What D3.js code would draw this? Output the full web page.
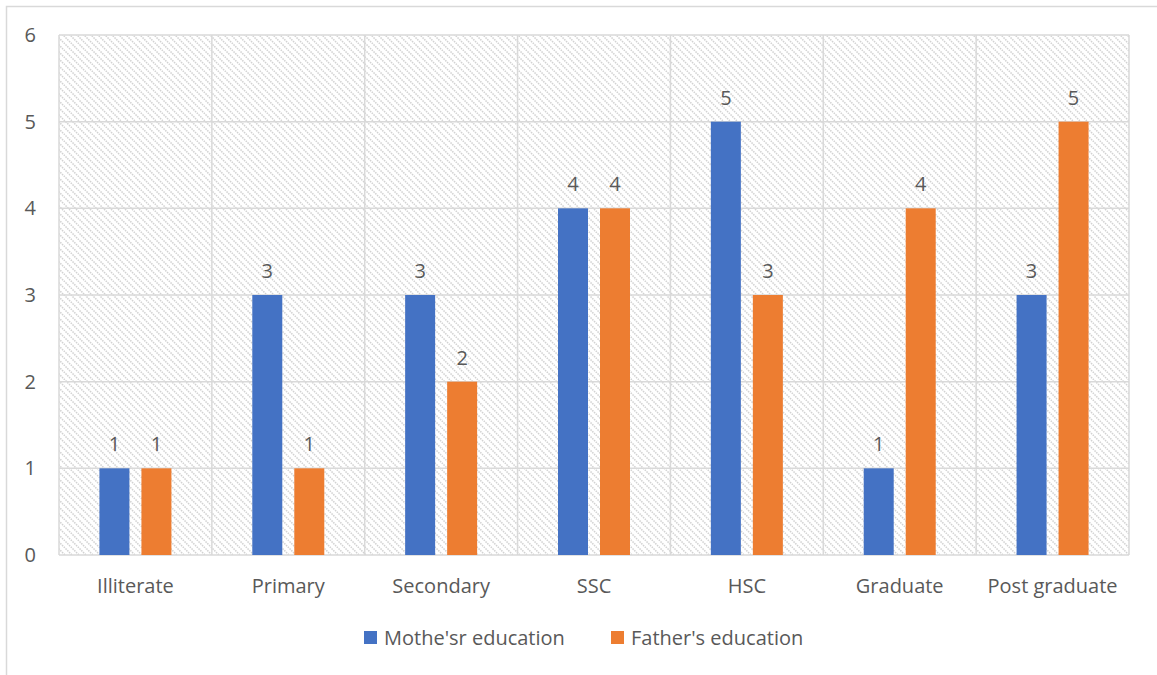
<!DOCTYPE html>
<html lang="en">
<head>
<meta charset="utf-8">
<title>Parents' education</title>
<script src="https://d3js.org/d3.v7.min.js"></script>
<style>
  body { margin: 0; background: #fff; }
  text { font-family: "Open Sans", "Liberation Sans", sans-serif; fill: #595959; }
</style>
</head>
<body>
<div id="chart"></div>
<script>
const categories = ["Illiterate", "Primary", "Secondary", "SSC", "HSC", "Graduate", "Post graduate"];
const seriesNames = ["Mothe'sr education", "Father's education"];
const mother = [1, 3, 3, 4, 5, 1, 3];
const father = [1, 1, 2, 4, 3, 4, 5];
const yTicks = [0, 1, 2, 3, 4, 5, 6];
const colors = ["#4472c4", "#ed7d31"];

const width = 1157, height = 675;
const plotLeft = 59, plotRight = 1129, plotTop = 35, plotBottom = 555;
const fs = 20;

const svg = d3.select("#chart").append("svg")
  .attr("width", width).attr("height", height);

// hatched plot background
const pat = svg.append("defs").append("pattern")
  .attr("id", "hatch").attr("patternUnits", "userSpaceOnUse")
  .attr("width", 7).attr("height", 7);
pat.append("rect").attr("width", 7).attr("height", 7).attr("fill", "#fff");
pat.append("path").attr("d", "M-1,-1 L8,8 M-4.5,2.5 L4.5,11.5 M2.5,-4.5 L11.5,4.5")
  .attr("stroke", "#d2d2d2").attr("stroke-width", 1.5).attr("stroke-dasharray", "1.5,1");

// outer chart border
svg.append("rect").attr("x", 6.5).attr("y", 6.5).attr("width", 1170).attr("height", 700)
  .attr("fill", "none").attr("stroke", "#d9d9d9").attr("stroke-width", 1.5);

const x = d3.scaleBand().domain(categories).range([plotLeft, plotRight]);
const y = d3.scaleLinear().domain([0, 6]).range([plotBottom, plotTop]);

svg.append("rect").attr("x", plotLeft).attr("y", plotTop)
  .attr("width", plotRight - plotLeft).attr("height", plotBottom - plotTop)
  .attr("fill", "url(#hatch)");

// gridlines
svg.append("g").selectAll("line").data(yTicks).join("line")
  .attr("x1", plotLeft).attr("x2", plotRight)
  .attr("y1", d => y(d)).attr("y2", d => y(d))
  .attr("stroke", "#d9d9d9").attr("stroke-width", 1.5);
const bounds = categories.map(c => x(c)).concat([plotRight]);
svg.append("g").selectAll("line").data(bounds).join("line")
  .attr("x1", d => d).attr("x2", d => d)
  .attr("y1", plotTop).attr("y2", plotBottom)
  .attr("stroke", "#d9d9d9").attr("stroke-width", 1.5);

// y tick labels
svg.append("g").selectAll("text").data(yTicks).join("text")
  .attr("x", 36).attr("y", d => y(d)).attr("dy", "0.35em")
  .attr("text-anchor", "end").attr("font-size", fs).text(d => d);

// category labels
svg.append("g").selectAll("text").data(categories).join("text")
  .attr("x", d => x(d) + x.bandwidth() / 2).attr("y", 586).attr("dy", "0.35em")
  .attr("text-anchor", "middle").attr("font-size", fs).text(d => d);

// bars
const barW = 30, gap = 12;
const offset = (x.bandwidth() - (2 * barW + gap)) / 2;
[mother, father].forEach((vals, si) => {
  const g = svg.append("g");
  const bx = (i) => x(categories[i]) + offset + si * (barW + gap);
  g.selectAll("rect").data(vals).join("rect")
    .attr("x", (d, i) => bx(i)).attr("width", barW)
    .attr("y", d => y(d)).attr("height", d => y(0) - y(d))
    .attr("fill", colors[si]);
  g.selectAll("text").data(vals).join("text")
    .attr("x", (d, i) => bx(i) + barW / 2).attr("y", d => y(d) - 24).attr("dy", "0.35em")
    .attr("text-anchor", "middle").attr("font-size", fs).attr("fill", "#404040")
    .text(d => d);
});

// legend
const legendX = [364, 611];
const lg = svg.append("g").selectAll("g").data(seriesNames).join("g")
  .attr("transform", (d, i) => `translate(${legendX[i]},638)`);
lg.append("rect").attr("x", 0).attr("y", -7).attr("width", 13).attr("height", 13)
  .attr("fill", (d, i) => colors[i]);
lg.append("text").attr("x", 20).attr("dy", "0.35em").attr("font-size", fs).text(d => d);
</script>
</body>
</html>
